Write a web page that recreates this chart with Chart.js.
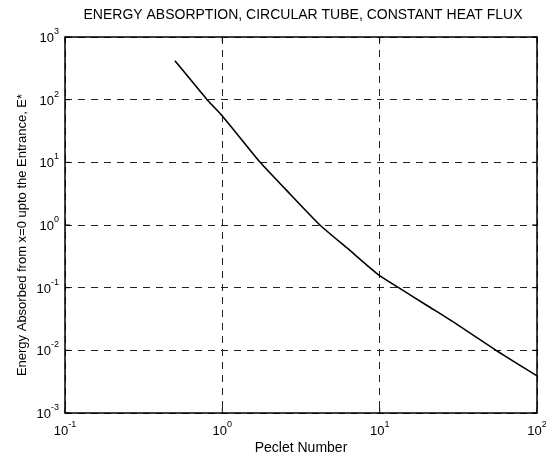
<!DOCTYPE html>
<html>
<head>
<meta charset="utf-8">
<script src="https://cdn.jsdelivr.net/npm/chart.js@4.4.1/dist/chart.umd.min.js"></script>
<style>
  body { margin: 0; background: #fff; }
  #wrap { width: 546px; height: 458px; }
</style>
</head>
<body>
<div id="wrap"><canvas id="energyChart" width="546" height="458"></canvas></div>
<script>
// values
const peclet = [0.5, 0.8, 1, 1.74, 2.5, 4.17, 6.2, 10, 13.2, 20, 30, 55, 100];
const energy = [417, 100, 55, 10, 3.8, 1, 0.43, 0.155, 0.1, 0.052, 0.0275, 0.01, 0.0039];
const xExponents = [-1, 0, 1, 2];
const yExponents = [-3, -2, -1, 0, 1, 2, 3];

const titleText = "ENERGY ABSORPTION, CIRCULAR TUBE, CONSTANT HEAT FLUX";
const xLabel = "Peclet Number";
const yLabel = "Energy Absorbed from x=0 upto the Entrance, E*";
const FONT = "'Liberation Sans', Arial, sans-serif";

// keep only the decade ticks for the grid
const decadesOnly = (exps) => (scale) => {
    scale.ticks = exps.map(e => ({value: Math.pow(10, e)}));
};

// frame, tick labels with exponents, titles
const decorations = {
    id: "decorations",
    afterDraw(chart) {
        const ctx = chart.ctx;
        const area = chart.chartArea;
        const xs = chart.scales.x;
        const ys = chart.scales.y;
        ctx.save();

        // box around the plot
        ctx.strokeStyle = "#000";
        ctx.lineWidth = 1.5;
        ctx.setLineDash([]);
        ctx.strokeRect(area.left, area.top, area.right - area.left, area.bottom - area.top);

        // small inner tick marks at each decade
        ctx.lineWidth = 1;
        xExponents.forEach(e => {
            const px = xs.getPixelForValue(Math.pow(10, e));
            ctx.beginPath();
            ctx.moveTo(px, area.bottom); ctx.lineTo(px, area.bottom - 5);
            ctx.moveTo(px, area.top); ctx.lineTo(px, area.top + 5);
            ctx.stroke();
        });
        yExponents.forEach(e => {
            const py = ys.getPixelForValue(Math.pow(10, e));
            ctx.beginPath();
            ctx.moveTo(area.left, py); ctx.lineTo(area.left + 5, py);
            ctx.moveTo(area.right, py); ctx.lineTo(area.right - 5, py);
            ctx.stroke();
        });

        ctx.fillStyle = "#000";
        ctx.textBaseline = "alphabetic";

        // x tick labels
        xExponents.forEach(e => {
            const px = xs.getPixelForValue(Math.pow(10, e));
            ctx.font = "13px " + FONT;
            const w10 = ctx.measureText("10").width;
            ctx.font = "9px " + FONT;
            const we = ctx.measureText(String(e)).width;
            const start = px - (w10 + we) / 2;
            ctx.font = "13px " + FONT;
            ctx.textAlign = "left";
            ctx.fillText("10", start, area.bottom + 22);
            ctx.font = "9px " + FONT;
            ctx.fillText(String(e), start + w10, area.bottom + 14);
        });

        // y tick labels
        yExponents.forEach(e => {
            const py = ys.getPixelForValue(Math.pow(10, e));
            ctx.font = "9px " + FONT;
            const we = ctx.measureText(String(e)).width;
            const right = area.left - 6;
            ctx.textAlign = "left";
            ctx.fillText(String(e), right - we, py - 3);
            ctx.font = "13px " + FONT;
            const w10 = ctx.measureText("10").width;
            ctx.fillText("10", right - we - w10, py + 5);
        });

        // title
        ctx.font = "14px " + FONT;
        ctx.textAlign = "center";
        ctx.fillText(titleText, 303, 19);

        // x axis label
        ctx.fillText(xLabel, (area.left + area.right) / 2, 452);

        // y axis label
        ctx.font = "13px " + FONT;
        ctx.translate(26, 235);
        ctx.rotate(-Math.PI / 2);
        ctx.fillText(yLabel, 0, 0);

        ctx.restore();
    }
};

const ctx = document.getElementById("energyChart");
new Chart(ctx, {
    type: "line",
    data: {
        datasets: [{
            data: peclet.map((p, i) => ({x: p, y: energy[i]})),
            borderColor: "#000",
            borderWidth: 1.6,
            pointRadius: 0,
            tension: 0.2,
            fill: false,
        }],
    },
    options: {
        responsive: false,
        animation: false,
        layout: {
            padding: {left: 65, right: 9, top: 37, bottom: 45},
        },
        plugins: {
            legend: {display: false},
            tooltip: {enabled: false},
        },
        scales: {
            x: {
                type: "logarithmic",
                min: 0.1,
                max: 100,
                afterBuildTicks: decadesOnly(xExponents),
                ticks: {display: false},
                grid: {
                    color: "#222",
                    lineWidth: 1,
                    drawTicks: false,
                },
                border: {display: false, dash: [7, 6]},
            },
            y: {
                type: "logarithmic",
                min: 0.001,
                max: 1000,
                afterBuildTicks: decadesOnly(yExponents),
                ticks: {display: false},
                grid: {
                    color: "#222",
                    lineWidth: 1,
                    drawTicks: false,
                },
                border: {display: false, dash: [7, 6]},
            },
        },
    },
    plugins: [decorations],
});
</script>
</body>
</html>
